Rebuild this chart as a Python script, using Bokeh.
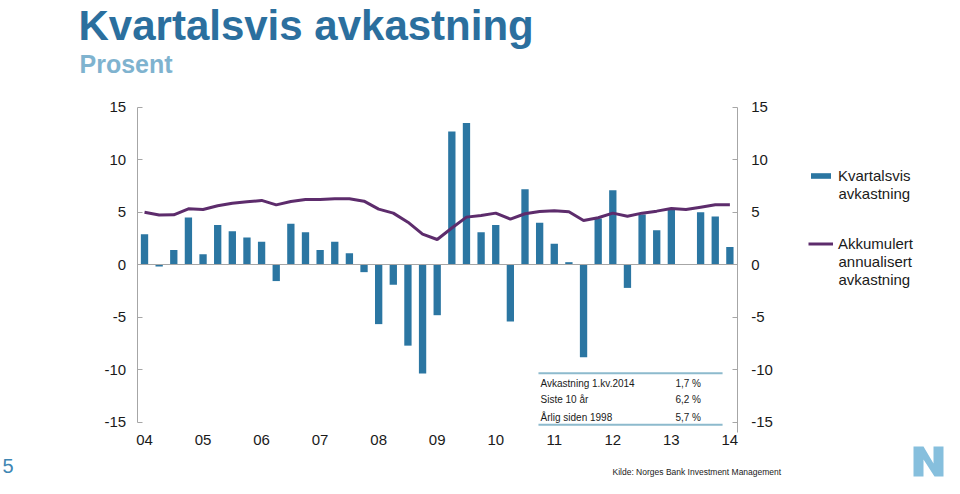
from bokeh.plotting import figure
from bokeh.models import (ColumnDataSource, Range1d, LinearAxis, FixedTicker,
                          Label, Legend, LegendItem, PolyAnnotation)
from bokeh.embed import file_html
from bokeh.resources import INLINE

# ---------------- data ----------------
quarters = [f"{y}K{q}" for y in range(2004, 2015) for q in range(1, 5)][:41]

quarterly_return = [2.9, -0.15, 1.4, 4.5, 1.0, 3.8, 3.2, 2.6, 2.2, -1.55,
                    3.9, 3.1, 1.4, 2.2, 1.1, -0.7, -5.65, -1.9, -7.7, -10.35,
                    -4.8, 12.7, 13.5, 3.1, 3.8, -5.4, 7.2, 4.0, 2.0, 0.25,
                    -8.8, 4.4, 7.1, -2.2, 4.8, 3.3, 5.3, 0.05, 5.0, 4.6, 1.7]

accumulated_annualized = [5.0, 4.75, 4.76, 5.33, 5.27, 5.62, 5.87, 6.0, 6.13, 5.71,
                          6.03, 6.22, 6.22, 6.29, 6.29, 6.06, 5.3, 4.92, 4.06, 2.92,
                          2.41, 3.5, 4.54, 4.7, 4.92, 4.35, 4.86, 5.08, 5.14, 5.05,
                          4.22, 4.48, 4.92, 4.63, 4.92, 5.11, 5.37, 5.27, 5.49, 5.71, 5.71]

year_ticks = [0, 4, 8, 12, 16, 20, 24, 28, 32, 36, 40]
year_labels = ["04", "05", "06", "07", "08", "09", "10", "11", "12", "13", "14"]

y_ticks = [15, 10, 5, 0, -5, -10, -15]
y_labels = ["15", "10", "5", "0", "-5", "-10", "-15"]

series_names = [["Kvartalsvis", "avkastning"],
                ["Akkumulert", "annualisert", "avkastning"]]

table_labels = ["Avkastning 1.kv.2014", "Siste 10 år", "Årlig siden 1998"]
table_values = ["1,7 %", "6,2 %", "5,7 %"]

# ---------------- style / layout ----------------
FONT = "Liberation Sans"
BAR_COLOR = "#2b76a2"
LINE_COLOR = "#5d2c6c"
AXIS_COLOR = "#a6a6a6"
TEXT_COLOR = "#1a1a1a"

W, H = 944, 478
X_LO, X_HI = -0.5, 40.5            # plot area in data units
PX_LEFT, PX_RIGHT = 136.7, 736.7   # plot area in pixels
XS = (PX_RIGHT - PX_LEFT) / (X_HI - X_LO)
PX_ZERO, YS = 264.3, 10.5          # pixel of y=0, pixels per unit

x_start = X_LO - PX_LEFT / XS
y_end = PX_ZERO / YS
p = figure(width=W, height=H, output_backend="svg", toolbar_location=None,
           x_range=Range1d(x_start, x_start + W / XS),
           y_range=Range1d(y_end - H / YS, y_end),
           min_border=0, x_axis_location=None, y_axis_location=None)
p.outline_line_color = None
p.xgrid.visible = False
p.ygrid.visible = False
p.background_fill_color = "white"
p.border_fill_color = "white"

src = ColumnDataSource(data=dict(x=list(range(len(quarters))), q=quarters,
                                 ret=quarterly_return, acc=accumulated_annualized))

bars_r = p.vbar(x="x", top="ret", bottom=0, width=0.5, source=src,
                fill_color=BAR_COLOR, line_color=None)
line_r = p.line(x="x", y="acc", source=src, line_color=LINE_COLOR, line_width=3)

# zero line (an axis line only)
zero_ax = LinearAxis(fixed_location=0, bounds=(X_LO, X_HI), ticker=FixedTicker(ticks=[]))
zero_ax.axis_line_color = AXIS_COLOR
zero_ax.major_tick_line_color = None
zero_ax.minor_tick_line_color = None
zero_ax.major_label_text_font_size = "0px"
p.add_layout(zero_ax, "below")

# year labels
xa = LinearAxis(fixed_location=-15.4, ticker=FixedTicker(ticks=year_ticks))
xa.major_label_overrides = {t: l for t, l in zip(year_ticks, year_labels)}
xa.axis_line_color = None
xa.major_tick_line_color = None
xa.minor_tick_line_color = None
xa.major_label_standoff = 2
xa.major_label_text_font = FONT
xa.major_label_text_font_size = "15px"
xa.major_label_text_color = TEXT_COLOR
p.add_layout(xa, "below")

def y_axis(side, loc, bounds, standoff):
    ax = LinearAxis(fixed_location=loc, ticker=FixedTicker(ticks=y_ticks), bounds=bounds)
    ax.major_label_overrides = {t: l for t, l in zip(y_ticks, y_labels)}
    ax.axis_line_color = AXIS_COLOR
    ax.major_tick_line_color = AXIS_COLOR
    ax.major_tick_in = 5
    ax.major_tick_out = 0
    ax.minor_tick_line_color = None
    ax.major_label_standoff = standoff
    ax.major_label_text_font = FONT
    ax.major_label_text_font_size = "15px"
    ax.major_label_text_color = TEXT_COLOR
    p.add_layout(ax, side)

y_axis("left", X_LO, (-15, 15), 11)
y_axis("right", X_HI, (-16, 15), 14)

# texts placed in pixels (x from left, vertical centre y from top)
def slabel(x_px, y_px, text, size, color, bold=False):
    p.add_layout(Label(x=x_px, y=H - y_px, x_units="screen", y_units="screen",
                       text=text, text_font=FONT, text_font_size=size,
                       text_color=color, text_font_style="bold" if bold else "normal",
                       text_baseline="middle"))

# legend: first line of each name next to its glyph, the rest as continuation lines
legend = Legend(items=[LegendItem(label=series_names[0][0], renderers=[bars_r]),
                       LegendItem(label=series_names[1][0], renderers=[line_r])],
                location=(808, 225), glyph_width=25, glyph_height=7, label_standoff=5,
                label_height=20, spacing=48, padding=0, margin=0, border_line_color=None,
                background_fill_alpha=0, label_text_font=FONT, label_text_font_size="15px",
                label_text_color=TEXT_COLOR)
p.add_layout(legend)
for yc, line in zip([193], series_names[0][1:]):
    slabel(838, yc, line, "15px", TEXT_COLOR)
for yc, line in zip([261, 279], series_names[1][1:]):
    slabel(838, yc, line, "15px", TEXT_COLOR)

# summary table inside the plot
for yv in (-10.32, -15.24):
    p.segment(x0=[26.92], x1=[39.5], y0=[yv], y1=[yv], line_color="#8dbacd", line_width=2)
row_y = [-11.28, -12.83, -14.55]
for lab, val, yy in zip(table_labels, table_values, row_y):
    p.add_layout(Label(x=27.06, y=yy, text=lab, text_font=FONT, text_font_size="10px",
                       text_color=TEXT_COLOR, text_baseline="middle"))
    p.add_layout(Label(x=36.28, y=yy, text=val, text_font=FONT, text_font_size="10px",
                       text_color=TEXT_COLOR, text_baseline="middle"))

slabel(78, 25, "Kvartalsvis avkastning", "42px", "#2b6f9e", bold=True)
slabel(79, 63, "Prosent", "25px", "#7fb3cf", bold=True)
slabel(2, 465, "5", "20px", "#3f86b3")
slabel(612, 471, "Kilde: Norges Bank Investment Management", "8.5px", TEXT_COLOR)

# logo
lx = [913, 913, 923, 933, 933, 943, 943, 934, 923, 923]
ly = [476, 446, 446, 463, 446, 446, 476, 476, 459, 476]
p.add_layout(PolyAnnotation(xs=lx, ys=[H - v for v in ly],
                            xs_units="screen", ys_units="screen",
                            fill_color="#86bfdd", fill_alpha=1, line_color=None))

open("out.html", "w").write(file_html(p, INLINE))
